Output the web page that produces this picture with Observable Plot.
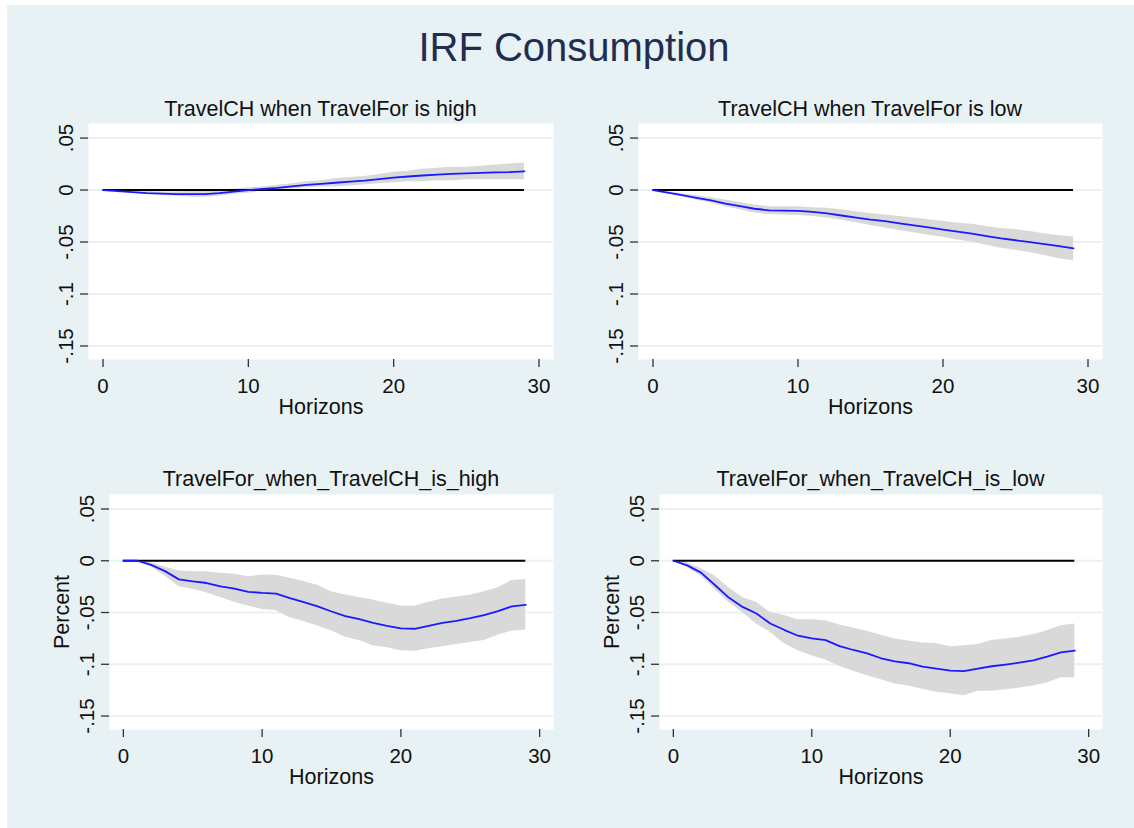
<!DOCTYPE html>
<html>
<head>
<meta charset="utf-8">
<script src="https://cdn.jsdelivr.net/npm/d3@7"></script>
<script src="https://cdn.jsdelivr.net/npm/@observablehq/plot@0.6"></script>
<style>
  html, body { margin: 0; padding: 0; background: #ffffff; }
  #page { position: relative; width: 1134px; height: 828px; overflow: hidden; font-family: "Liberation Sans", Arial, sans-serif; }
  #frame { position: absolute; left: 7px; top: 5px; width: 1127px; height: 823px; background: #E8F1F3; }
  .title { position: absolute; left: 274px; width: 600px; top: 27px; font-size: 40px; line-height: 40px; text-align: center; color: #1F2D50; white-space: nowrap; }
  .sub { position: absolute; font-size: 21.5px; line-height: 21.5px; text-align: center; color: #111; white-space: nowrap; }
  .panel { position: absolute; }
  .panel g[aria-label="y-axis label"] text, .panel g[aria-label="x-axis label"] text { font-size: 21.5px; }
</style>
</head>
<body>
<div id="page">
  <div id="frame"></div>
  <div class="title">IRF Consumption</div>
</div>
<script>
// ---- Data ----
const horizons = [0,1,2,3,4,5,6,7,8,9,10,11,12,13,14,15,16,17,18,19,20,21,22,23,24,25,26,27,28,29];

const titles = [
  "TravelCH when TravelFor is high",
  "TravelCH when TravelFor is low",
  "TravelFor_when_TravelCH_is_high",
  "TravelFor_when_TravelCH_is_low"
];

// Panel 1: TravelCH when TravelFor is high
const irf1 = [0,-0.001,-0.002,-0.003,-0.0035,-0.004,-0.004,-0.004,-0.003,-0.0015,0,0.001,0.002,0.0035,0.005,0.006,0.007,0.008,0.009,0.0105,0.012,0.013,0.014,0.0148,0.0155,0.016,0.0165,0.017,0.0172,0.018];
const hi1  = [0,-0.0005,-0.001,-0.0015,-0.002,-0.002,-0.0015,-0.001,0,0.001,0.002,0.003,0.0045,0.006,0.008,0.009,0.011,0.012,0.013,0.015,0.017,0.018,0.02,0.021,0.022,0.022,0.023,0.024,0.025,0.026];
const lo1  = [0,-0.0015,-0.003,-0.004,-0.005,-0.006,-0.007,-0.007,-0.006,-0.004,-0.003,-0.001,0,0.001,0.002,0.003,0.003,0.004,0.005,0.006,0.007,0.008,0.008,0.009,0.009,0.01,0.01,0.01,0.01,0.01];

// Panel 2: TravelCH when TravelFor is low
const irf2 = [0,-0.0025,-0.005,-0.0075,-0.010,-0.013,-0.0155,-0.018,-0.0195,-0.0198,-0.020,-0.021,-0.0225,-0.0245,-0.0265,-0.0285,-0.030,-0.032,-0.034,-0.036,-0.038,-0.040,-0.042,-0.0443,-0.0465,-0.0483,-0.050,-0.052,-0.054,-0.0562];
const hi2  = [0,-0.0015,-0.0035,-0.0055,-0.0075,-0.0095,-0.012,-0.0145,-0.016,-0.016,-0.016,-0.017,-0.0175,-0.019,-0.021,-0.0225,-0.024,-0.0255,-0.027,-0.0285,-0.030,-0.032,-0.033,-0.035,-0.037,-0.038,-0.040,-0.042,-0.044,-0.045];
const lo2  = [0,-0.0035,-0.0065,-0.0095,-0.0125,-0.016,-0.019,-0.022,-0.0235,-0.024,-0.0245,-0.0255,-0.027,-0.029,-0.0315,-0.034,-0.0365,-0.039,-0.041,-0.0435,-0.0455,-0.048,-0.050,-0.053,-0.056,-0.058,-0.060,-0.063,-0.066,-0.068];

// Panel 3: TravelFor_when_TravelCH_is_high
const irf3 = [0,0,-0.004,-0.010,-0.018,-0.020,-0.0215,-0.0247,-0.027,-0.030,-0.031,-0.0317,-0.036,-0.040,-0.044,-0.049,-0.0535,-0.0564,-0.060,-0.063,-0.0654,-0.0657,-0.063,-0.060,-0.058,-0.0555,-0.0526,-0.0487,-0.044,-0.0426];
const hi3  = [0,0,-0.002,-0.006,-0.010,-0.0105,-0.0106,-0.012,-0.013,-0.0154,-0.0138,-0.014,-0.017,-0.020,-0.0237,-0.030,-0.033,-0.0356,-0.038,-0.041,-0.0436,-0.044,-0.040,-0.037,-0.035,-0.0333,-0.030,-0.026,-0.019,-0.018];
const lo3  = [0,-0.001,-0.006,-0.0147,-0.025,-0.0276,-0.031,-0.0356,-0.040,-0.0436,-0.047,-0.048,-0.055,-0.0587,-0.063,-0.0676,-0.074,-0.077,-0.082,-0.084,-0.087,-0.0875,-0.085,-0.083,-0.081,-0.079,-0.077,-0.072,-0.068,-0.067];

// Panel 4: TravelFor_when_TravelCH_is_low
const irf4 = [0,-0.0045,-0.0115,-0.0234,-0.0356,-0.0446,-0.051,-0.0606,-0.0667,-0.0724,-0.075,-0.0766,-0.0824,-0.0862,-0.0894,-0.0942,-0.0971,-0.099,-0.1022,-0.1042,-0.1061,-0.1067,-0.1042,-0.1019,-0.1003,-0.0984,-0.0962,-0.0926,-0.0885,-0.0869];
const hi4  = [0,-0.002,-0.0074,-0.0147,-0.026,-0.0356,-0.040,-0.050,-0.053,-0.057,-0.057,-0.058,-0.062,-0.065,-0.068,-0.072,-0.0756,-0.0776,-0.0795,-0.080,-0.083,-0.082,-0.081,-0.077,-0.0756,-0.074,-0.0715,-0.0676,-0.0628,-0.0612];
const lo4  = [0,-0.0067,-0.0147,-0.0276,-0.040,-0.050,-0.061,-0.069,-0.080,-0.087,-0.0917,-0.0958,-0.102,-0.1067,-0.111,-0.115,-0.119,-0.121,-0.124,-0.127,-0.1285,-0.1305,-0.126,-0.126,-0.1247,-0.123,-0.121,-0.118,-0.113,-0.113];

const xTicks = [0, 10, 20, 30];
const yTicks = [0.05, 0, -0.05, -0.1, -0.15];
const yTickLabels = [".05", "0", "-.05", "-.1", "-.15"];
const xLabel = "Horizons";
const yLabels = [null, null, "Percent", "Percent"];

// ---- Layout ----
const panels = [
  {irf: irf1, lo: lo1, hi: hi1, left: 18,  top: 113, plotW: 465, plotH: 236, subTop: 99},
  {irf: irf2, lo: lo2, hi: hi2, left: 568, top: 113, plotW: 464, plotH: 236, subTop: 99},
  {irf: irf3, lo: lo3, hi: hi3, left: 39,  top: 484, plotW: 444, plotH: 235, subTop: 469},
  {irf: irf4, lo: lo4, hi: hi4, left: 589, top: 484, plotW: 443, plotH: 235, subTop: 469}
];

const page = document.getElementById("page");
const mL = 70, mR = 15, mT = 10, mB = 62;
const fmtY = d => yTickLabels[yTicks.indexOf(d)];

panels.forEach((p, i) => {
  const rows = horizons.map((h, k) => ({h, irf: p.irf[k], lo: p.lo[k], hi: p.hi[k]}));
  const chart = Plot.plot({
    width: mL + p.plotW + mR,
    height: mT + p.plotH + mB,
    marginLeft: mL, marginRight: mR, marginTop: mT, marginBottom: mB,
    style: {fontFamily: "'Liberation Sans', Arial, sans-serif", fontSize: "20.5px", background: "transparent", color: "#111", overflow: "visible"},
    x: {domain: [-1, 31]},
    y: {domain: [-0.163, 0.064]},
    marks: [
      Plot.frame({fill: "white", stroke: null}),
      Plot.gridY(yTicks, {stroke: "#E8F1F3", strokeOpacity: 1, strokeWidth: 2}),
      Plot.areaY(rows, {x: "h", y1: "lo", y2: "hi", fill: "#D9D9D9", curve: "linear"}),
      Plot.ruleY([0], {x1: horizons[0], x2: horizons[horizons.length - 1], stroke: "#000", strokeWidth: 2}),
      Plot.line(rows, {x: "h", y: "irf", stroke: "#1A1AFF", strokeWidth: 1.8}),
      Plot.axisY(yTicks, {
        tickFormat: fmtY, tickRotate: -90, tickSize: 8, tickPadding: 8,
        stroke: "#333", strokeWidth: 1.3, line: true,
        label: yLabels[i], labelAnchor: "center", labelArrow: "none", labelOffset: 56
      }),
      Plot.axisX(xTicks, {
        tickSize: 8, tickPadding: 11, stroke: "#333", strokeWidth: 1.3, line: true,
        label: xLabel, labelAnchor: "center", labelArrow: "none", labelOffset: 54
      })
    ]
  });
  chart.classList.add("panel");
  chart.style.left = p.left + "px";
  chart.style.top = p.top + "px";
  page.appendChild(chart);

  const sub = document.createElement("div");
  sub.className = "sub";
  sub.textContent = titles[i];
  const cx = p.left + mL + p.plotW / 2;
  sub.style.left = (cx - 250) + "px";
  sub.style.width = "500px";
  sub.style.top = p.subTop + "px";
  page.appendChild(sub);
});
</script>
</body>
</html>
